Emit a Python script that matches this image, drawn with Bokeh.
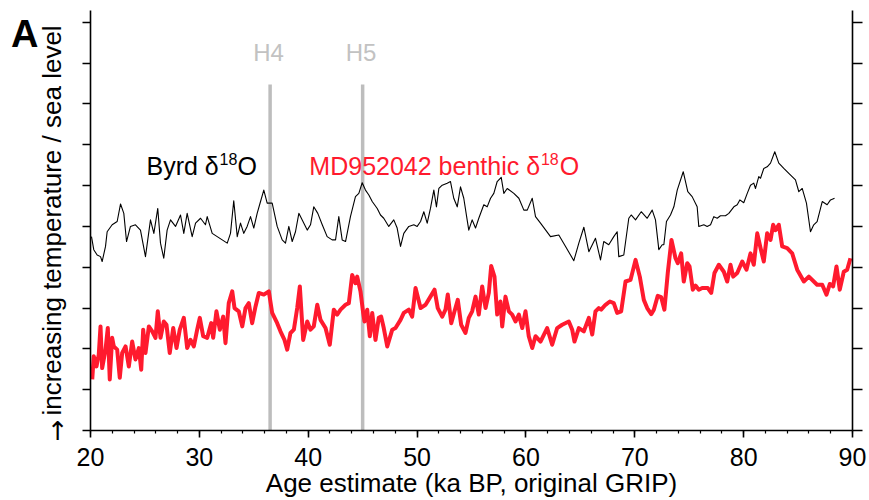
from bokeh.plotting import figure
from bokeh.models import Range1d, LinearAxis, FixedTicker, Label, CustomJSTickFormatter
from bokeh.embed import file_html
from bokeh.resources import INLINE

FONT = "Liberation Sans"
RED = "#ff1a2e"
GREY_LINE = "#bdbdbd"
GREY_TEXT = "#c2c2c2"

# Byrd ice core d18O (arbitrary, upward = warmer)
byrd_age = [
    20.09, 20.30, 20.61, 20.92, 21.07, 21.38, 21.53, 21.99, 22.45, 22.76,
    23.06, 23.31, 23.67, 24.13, 24.59, 25.05, 25.51, 25.82, 26.18, 26.43,
    26.73, 27.04, 27.35, 27.81, 28.27, 28.57, 28.88, 29.34, 29.65, 30.11,
    30.56, 30.72, 31.18, 31.64, 32.10, 32.56, 32.86, 33.16, 33.48, 33.78,
    34.08, 34.39, 34.70, 35.00, 35.31, 35.62, 35.92, 36.23, 36.69, 37.15,
    37.61, 37.91, 38.22, 38.53, 38.83, 39.14, 39.45, 39.91, 40.21, 40.51,
    40.88, 41.29, 41.74, 42.20, 42.51, 42.81, 43.12, 43.43, 43.88, 44.34,
    44.65, 44.96, 45.26, 45.57, 45.88, 46.34, 46.64, 46.94, 47.40, 47.86,
    48.17, 48.48, 48.78, 49.24, 49.70, 50.01, 50.32, 50.62, 50.93, 51.23,
    51.54, 51.78, 52.00, 52.31, 52.77, 53.07, 53.37, 53.69, 53.99, 54.29,
    54.60, 54.75, 55.06, 55.37, 55.67, 56.13, 56.44, 56.75, 57.05, 57.36,
    57.73, 57.97, 58.28, 58.89, 59.35, 59.81, 60.12, 60.58, 60.88, 61.34,
    62.26, 63.02, 63.64, 64.40, 64.86, 65.32, 65.78, 66.39, 66.85, 67.15,
    67.61, 68.07, 68.38, 68.53, 68.99, 69.45, 69.67, 70.07, 70.59, 71.14,
    71.60, 71.90, 72.21, 72.52, 72.67, 72.91, 73.28, 73.59, 73.90, 74.45,
    74.87, 75.27, 75.73, 75.88, 76.34, 76.65, 76.96, 77.26, 77.57, 77.87,
    78.33, 78.64, 79.10, 79.41, 79.65, 80.01, 80.33, 80.63, 80.93, 81.09,
    81.39, 81.55, 81.85, 82.16, 82.47, 82.86, 83.23, 83.69, 84.15, 84.76,
    85.07, 85.38, 85.77, 86.14, 86.44, 86.75, 87.22, 87.67, 87.98, 88.35,
]
byrd_val = [
    4.75, 4.43, 4.30, 4.26, 4.14, 4.51, 4.87, 5.04, 5.12, 5.55,
    5.32, 4.63, 5.00, 5.04, 4.91, 4.26, 5.16, 4.83, 5.44, 4.59,
    4.22, 4.91, 5.16, 5.00, 5.28, 4.83, 5.32, 4.75, 5.08, 5.20,
    5.04, 5.24, 4.83, 4.75, 4.67, 4.59, 4.83, 5.63, 4.75, 5.08,
    4.83, 5.00, 5.24, 4.96, 5.32, 5.61, 5.89, 5.57, 5.57, 5.00,
    4.67, 4.59, 5.00, 4.63, 4.87, 5.32, 5.16, 4.91, 5.04, 5.48,
    5.32, 5.04, 4.75, 4.67, 4.67, 5.24, 4.67, 4.63, 5.24, 5.73,
    5.81, 6.07, 5.89, 5.77, 5.61, 5.44, 5.28, 5.20, 5.00, 5.16,
    4.96, 4.51, 4.83, 5.00, 5.04, 5.00, 5.12, 5.36, 5.08, 5.44,
    5.89, 5.48, 5.93, 6.01, 6.06, 6.10, 5.69, 5.48, 5.97, 5.69,
    5.16, 4.91, 5.16, 4.96, 5.20, 5.53, 5.48, 5.69, 5.81, 6.10,
    6.20, 5.81, 5.93, 5.81, 5.69, 5.40, 5.40, 5.69, 5.24, 5.08,
    4.75, 4.79, 4.51, 4.16, 4.59, 4.98, 4.38, 4.71, 4.18, 4.63,
    4.55, 4.75, 4.87, 4.26, 4.30, 5.20, 5.28, 5.16, 5.36, 5.20,
    5.40, 5.16, 4.43, 4.55, 4.55, 5.12, 5.28, 5.48, 5.89, 6.34,
    5.85, 5.73, 5.48, 5.00, 5.04, 5.00, 5.04, 5.24, 5.20, 5.26,
    5.26, 5.32, 5.48, 5.53, 5.65, 5.58, 5.81, 6.01, 6.06, 5.93,
    6.22, 6.18, 6.42, 6.46, 6.55, 6.83, 6.55, 6.42, 6.30, 6.14,
    5.85, 5.93, 5.57, 4.87, 5.04, 5.12, 5.61, 5.53, 5.65, 5.69,
]

# MD952042 benthic d18O (arbitrary, upward = higher sea level)
md_age = [
    20.16, 20.30, 20.55, 20.76, 20.92, 21.07, 21.38, 21.59, 21.77, 21.99,
    22.14, 22.45, 22.69, 22.91, 23.22, 23.52, 23.83, 24.13, 24.44, 24.66,
    24.84, 25.05, 25.36, 25.67, 25.97, 26.18, 26.43, 26.73, 26.98, 27.28,
    27.60, 27.90, 28.20, 28.57, 28.88, 29.19, 29.49, 29.80, 30.04, 30.35,
    30.72, 31.09, 31.27, 31.57, 31.88, 32.19, 32.40, 32.70, 33.02, 33.23,
    33.62, 33.94, 34.24, 34.54, 34.85, 35.16, 35.46, 35.92, 36.38, 36.69,
    37.15, 37.45, 37.82, 38.07, 38.37, 38.68, 38.99, 39.23, 39.54, 39.91,
    40.21, 40.51, 40.83, 41.13, 41.59, 41.98, 42.35, 42.66, 42.97, 43.43,
    43.73, 44.04, 44.34, 44.50, 44.80, 45.05, 45.17, 45.42, 45.66, 45.88,
    46.18, 46.48, 46.70, 46.94, 47.26, 47.72, 48.02, 48.48, 48.78, 49.24,
    49.55, 49.86, 50.32, 50.78, 51.23, 51.60, 51.90, 52.31, 52.61, 52.82,
    53.14, 53.44, 53.74, 54.05, 54.45, 54.75, 55.06, 55.37, 55.67, 55.98,
    56.29, 56.59, 56.81, 57.11, 57.36, 57.66, 57.82, 58.12, 58.43, 58.74,
    59.04, 59.35, 59.66, 59.96, 60.26, 60.58, 60.88, 61.34, 61.95, 62.41,
    62.87, 63.33, 63.94, 64.25, 64.46, 64.86, 65.32, 65.78, 66.09, 66.39,
    66.69, 66.91, 67.31, 67.71, 68.07, 68.38, 68.75, 69.15, 69.61, 70.07,
    70.46, 70.83, 71.14, 71.51, 71.75, 72.11, 72.42, 72.72, 73.03, 73.37,
    73.74, 73.95, 74.26, 74.50, 74.82, 75.03, 75.33, 75.58, 75.88, 76.19,
    76.71, 77.02, 77.32, 77.72, 78.18, 78.49, 78.79, 79.04, 79.41, 79.87,
    80.26, 80.63, 80.93, 81.25, 81.55, 81.85, 82.16, 82.47, 82.71, 82.92,
    83.23, 83.54, 84.00, 84.46, 84.92, 85.53, 85.99, 86.75, 87.22, 87.61,
    87.92, 88.22, 88.53, 88.83, 89.20, 89.51, 89.81,
]
md_val = [
    1.25, 1.82, 1.57, 1.86, 2.55, 1.53, 1.98, 2.51, 1.25, 2.27,
    2.06, 1.98, 1.29, 1.90, 2.06, 1.57, 2.18, 1.74, 2.02, 1.49,
    2.47, 1.90, 2.55, 2.43, 2.27, 2.92, 2.27, 2.67, 2.59, 1.90,
    2.51, 2.02, 2.47, 2.76, 2.02, 2.22, 2.06, 2.47, 2.76, 2.31,
    2.27, 2.63, 2.27, 2.92, 2.47, 2.79, 2.14, 3.12, 3.41, 3.00,
    2.92, 2.55, 3.00, 3.12, 2.63, 3.04, 3.37, 3.33, 3.41, 2.88,
    2.63, 2.43, 2.22, 1.98, 2.39, 2.47, 3.00, 3.53, 2.22, 2.67,
    2.47, 2.55, 3.08, 2.71, 2.51, 2.10, 2.96, 2.84, 2.96, 3.08,
    3.12, 3.81, 3.61, 3.77, 3.41, 2.88, 2.67, 2.96, 2.31, 2.88,
    2.22, 2.76, 2.79, 2.51, 2.06, 2.47, 2.51, 2.71, 2.88, 2.96,
    2.79, 3.49, 3.00, 3.08, 3.28, 3.45, 3.00, 2.79, 2.96, 3.33,
    2.63, 2.92, 3.20, 2.59, 2.39, 2.76, 2.92, 3.28, 2.84, 3.53,
    3.00, 3.37, 4.03, 3.77, 2.84, 3.16, 2.55, 3.28, 2.92, 2.84,
    2.67, 2.84, 2.51, 2.92, 2.31, 2.02, 2.31, 2.18, 2.51, 2.10,
    2.51, 2.59, 2.67, 2.47, 2.18, 2.51, 2.43, 2.76, 2.35, 2.92,
    3.00, 2.96, 3.08, 3.16, 3.12, 2.88, 2.92, 3.65, 3.69, 4.18,
    3.77, 3.20, 3.00, 2.85, 2.96, 3.30, 3.27, 2.96, 3.86, 4.67,
    4.22, 4.10, 4.34, 3.65, 4.10, 4.02, 3.45, 3.55, 3.45, 3.49,
    3.49, 3.37, 3.86, 4.06, 3.89, 3.65, 4.06, 3.77, 3.86, 4.14,
    3.94, 4.34, 4.06, 4.83, 4.47, 4.14, 4.83, 4.67, 5.04, 4.91,
    5.04, 4.51, 4.47, 4.34, 3.94, 3.65, 3.77, 3.57, 3.57, 3.33,
    3.59, 3.53, 4.02, 3.45, 3.89, 3.94, 4.22,
]

# Heinrich events H4 and H5
heinrich_age = [36.5, 45.0]
heinrich_name = ["H4", "H5"]
heinrich_top = 8.48

x_ticks = [20, 30, 40, 50, 60, 70, 80, 90]
x_minor = list(range(20, 91, 2))
y_ticks = list(range(0, 11))
panel_letter_at = [9.72]

p = figure(
    width=869, height=500,
    output_backend="svg", toolbar_location=None,
    x_range=Range1d(20, 90), y_range=Range1d(0, 10.29),
    min_border_left=90, min_border_right=17,
    min_border_top=10, min_border_bottom=69,
)
p.outline_line_color = None
p.xgrid.visible = False
p.ygrid.visible = False
p.background_fill_color = "white"
p.border_fill_color = "white"

# bottom axis
xa = p.xaxis[0]
xa.ticker = FixedTicker(ticks=x_ticks, minor_ticks=x_minor)
xa.axis_line_width = 1.6
xa.major_tick_line_width = 1.6
xa.minor_tick_line_width = 1.2
xa.major_tick_in = 0
xa.major_tick_out = 7
xa.minor_tick_in = 0
xa.minor_tick_out = 3
xa.major_label_text_font = FONT
xa.major_label_text_font_size = "25px"
xa.major_label_text_color = "black"
xa.major_label_standoff = 10
xa.axis_label = "Age estimate (ka BP, original GRIP)"
xa.axis_label_text_font = FONT
xa.axis_label_text_font_size = "26px"
xa.axis_label_text_font_style = "normal"
xa.axis_label_text_color = "black"
xa.axis_label_standoff = -1

# left and right axes: ticks only
ya = p.yaxis[0]
right = LinearAxis()
p.add_layout(right, "right")
for ax, out in ((ya, 8), (right, 10)):
    ax.ticker = FixedTicker(ticks=y_ticks)
    ax.axis_line_width = 1.6
    ax.major_tick_line_width = 1.4
    ax.major_tick_in = 0
    ax.major_tick_out = out
    ax.minor_tick_line_color = None

right.formatter = CustomJSTickFormatter(code="return ''")
right.major_label_text_font_size = "0px"
right.major_label_standoff = 0

# left axis: an upward arrow beside the lowest tick, then the vertical title
ya.formatter = CustomJSTickFormatter(code="return tick == 0 ? '\\u2191' : ''")
ya.major_label_text_font = "DejaVu Sans"
ya.major_label_text_font_size = "26px"
ya.major_label_text_color = "black"
ya.major_label_standoff = 14
ya.axis_label = "increasing temperature / sea level"
ya.axis_label_text_font = FONT
ya.axis_label_text_font_size = "26px"
ya.axis_label_text_font_style = "normal"
ya.axis_label_text_color = "black"
ya.axis_label_standoff = -23

# outer left axis that only carries the panel letter
letter_axis = LinearAxis(
    ticker=FixedTicker(ticks=panel_letter_at, minor_ticks=[]),
    formatter=CustomJSTickFormatter(code="return 'A'"),
)
letter_axis.axis_line_color = None
letter_axis.major_tick_line_color = None
letter_axis.minor_tick_line_color = None
letter_axis.major_tick_in = 0
letter_axis.major_tick_out = 0
letter_axis.major_label_standoff = -5
letter_axis.major_label_text_font = FONT
letter_axis.major_label_text_font_size = "38px"
letter_axis.major_label_text_font_style = "bold"
letter_axis.major_label_text_color = "black"
p.add_layout(letter_axis, "left")

# Heinrich markers
p.segment(x0=heinrich_age, y0=[0, 0], x1=heinrich_age,
          y1=[heinrich_top, heinrich_top], line_color=GREY_LINE, line_width=3.5)

# records
p.line(byrd_age, byrd_val, line_color="black", line_width=1.1, line_join="round")
p.line(md_age, md_val, line_color=RED, line_width=4, line_join="round")


def add_text(x, y, text, size, color="black", align="left"):
    p.add_layout(Label(
        x=x, y=y, text=text,
        text_font=FONT, text_font_size=size,
        text_color=color, text_align=align, text_baseline="alphabetic",
    ))


for age, name in zip(heinrich_age, heinrich_name):
    add_text(age - 0.15, 9.27, name, "24px", GREY_TEXT, "center")

# series names with superscript 18
add_text(25.14, 6.48, "Byrd \u03b4", "25px", "black", "left")
add_text(31.85, 6.65, "18", "16px", "black", "left")
add_text(33.50, 6.48, "O", "25px", "black", "left")

add_text(61.30, 6.48, "MD952042 benthic \u03b4", "25px", RED, "right")
add_text(61.38, 6.65, "18", "16px", RED, "left")
add_text(63.10, 6.48, "O", "25px", RED, "left")

open("out.html", "w").write(file_html(p, INLINE))
